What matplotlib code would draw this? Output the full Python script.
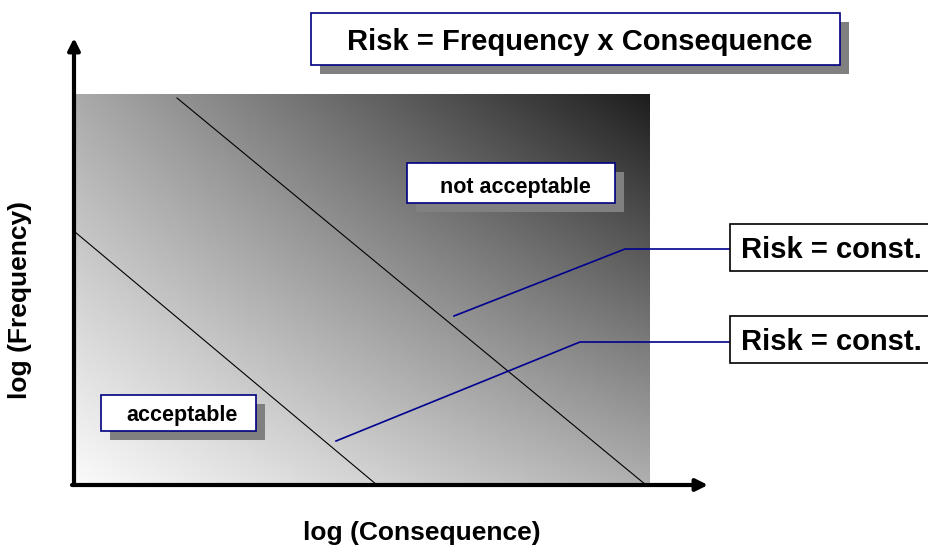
import numpy as np
from matplotlib import pyplot as plt
from matplotlib import patches

plt.rcParams['font.family'] = ['Liberation Sans', 'DejaVu Sans']

W, H = 929, 547

# diagram geometry, in picture pixels (y down)
area_x = [75, 650]
area_y = [94, 485]
area_shade = [250, 170, 30, 175]   # grey at bottom-left, top-left, top-right, bottom-right

y_axis = [(74, 485), (74, 38)]
x_axis = [(72, 485), (708, 485)]

risk_lines = [
    [(177, 98), (646, 485)],
    [(75, 232), (377, 485)],
]

callouts = [
    [(454, 316), (625, 249), (730, 249)],
    [(336, 441), (580, 342), (730, 342)],
]

# (text, x0, y0, x1, y1, fontsize, text dy)
boxes = [
    ('Risk = Frequency x Consequence', 311, 13, 840, 65, 21, 3),
    ('not acceptable', 407, 163, 615, 203, 15.5, 5),
    ('acceptable', 101, 395, 256, 431, 15.5, 3),
]
const_boxes = [
    ('Risk = const.', 730, 224, 271),
    ('Risk = const.', 730, 316, 363),
]

x_label = 'log (Consequence)'
y_label = 'log (Frequency)'


fig = plt.figure(figsize=(W / 100, H / 100), dpi=100)
ax = fig.add_axes([0, 0, 1, 1])
ax.set_xlim(0, W)
ax.set_ylim(H, 0)
ax.axis('off')

# gradient background
xf = np.linspace(0, 1, 300)[None, :]
yf = np.linspace(1, 0, 200)[:, None]   # 1 at top
bl, tl, tr, br = area_shade
grey = bl * (1 - xf) * (1 - yf) + tl * (1 - xf) * yf + tr * xf * yf + br * xf * (1 - yf)
ax.imshow(grey / 255.0, cmap='gray', vmin=0, vmax=1, aspect='auto',
          extent=[area_x[0], area_x[1], area_y[1], area_y[0]], zorder=1)

for (xa, ya), (xb, yb) in risk_lines:
    ax.plot([xa, xb], [ya, yb], color='black', lw=0.8, zorder=2)

for pts in callouts:
    xs, ys = zip(*pts)
    ax.plot(xs, ys, color='#000090', lw=1.2, zorder=3)

# axes arrows
for (xa, ya), (xb, yb) in [y_axis, x_axis]:
    ax.annotate('', xy=(xb, yb), xytext=(xa, ya),
                arrowprops=dict(arrowstyle='-|>,head_length=0.7,head_width=0.35',
                                lw=3, color='black', shrinkA=0, shrinkB=0),
                zorder=4)

for text, x0, y0, x1, y1, fs, dy in boxes:
    ax.add_patch(patches.Rectangle((x0 + 9, y0 + 9), x1 - x0, y1 - y0,
                                   facecolor='#808080', edgecolor='none', zorder=5))
    ax.add_patch(patches.Rectangle((x0, y0), x1 - x0, y1 - y0,
                                   facecolor='white', edgecolor='#000080', lw=1.2, zorder=6))
    ax.text((x0 + x1) / 2 + 4, (y0 + y1) / 2 + dy, text, ha='center', va='center',
            fontsize=fs, fontweight='bold', zorder=7)

for text, x0, y0, y1 in const_boxes:
    ax.add_patch(patches.Rectangle((x0, y0), W + 20 - x0, y1 - y0,
                                   facecolor='white', edgecolor='black', lw=1.2,
                                   clip_on=True, zorder=6))
    ax.text(x0 + 11, (y0 + y1) / 2 + 2, text, ha='left', va='center',
            fontsize=21, fontweight='bold', zorder=7)

ax.text(422, 533, x_label, ha='center', va='center', fontsize=19, fontweight='bold')
ax.text(20, 300, y_label, ha='center', va='center', rotation=90,
        fontsize=19, fontweight='bold')

fig.savefig('out.png', dpi=100)
